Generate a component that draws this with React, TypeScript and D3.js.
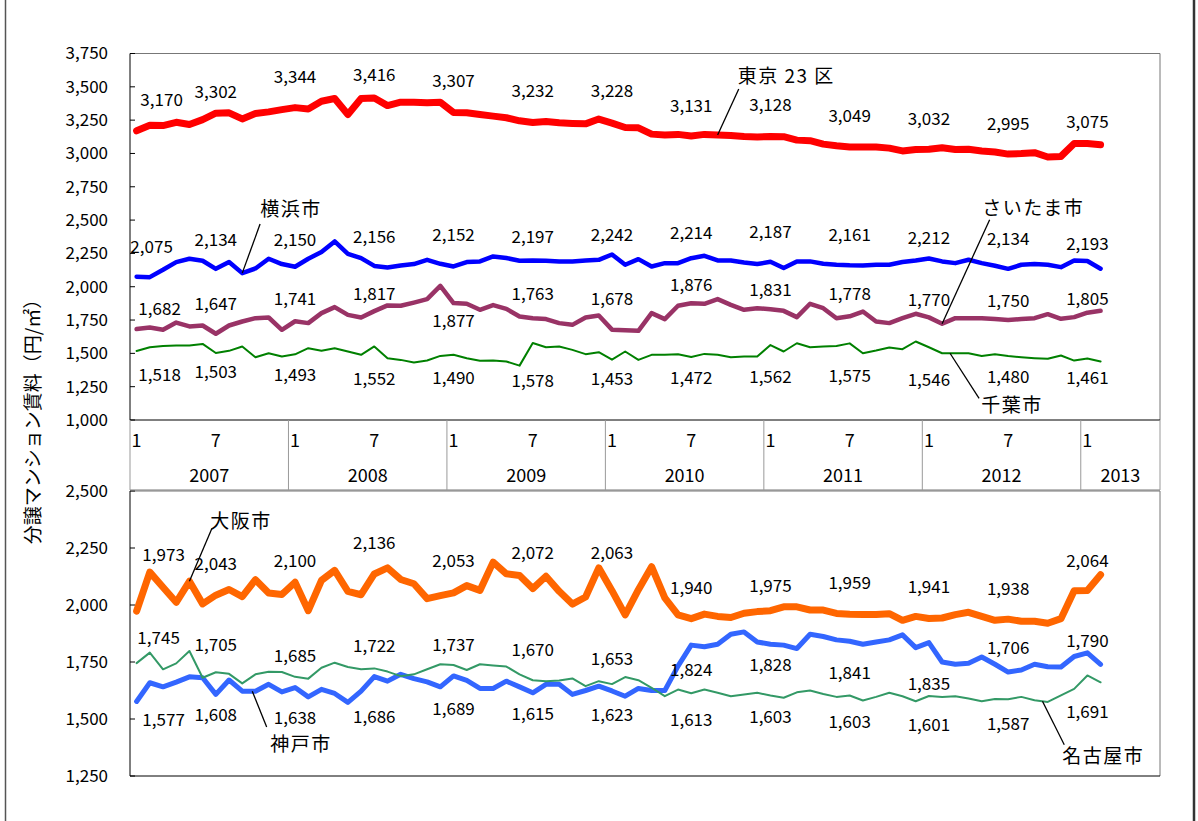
import React from 'react';
import * as d3 from 'd3';

// categories: monthly, Jan 2007 .. Jun 2013 (data runs to Feb 2013)
const years = ['2007', '2008', '2009', '2010', '2011', '2012', '2013'];
const monthTicks = ['1', '7'];
const categories = years.flatMap(y => d3.range(1, 13).map(m => `${y}/${m}`)).slice(0, 78);

// upper panel (円/㎡)
const tokyo = [3170, 3211, 3209, 3234, 3217, 3254, 3302, 3305, 3259, 3300, 3312, 3329, 3344, 3334, 3392, 3412, 3292, 3412, 3416, 3359,
  3385, 3385, 3380, 3385, 3307, 3305, 3292, 3280, 3268, 3245, 3232, 3240, 3230, 3225, 3222, 3258, 3228, 3195, 3192, 3145,
  3138, 3143, 3131, 3143, 3138, 3135, 3127, 3124, 3128, 3126, 3100, 3096, 3070, 3058, 3049, 3048, 3048, 3040, 3019, 3030,
  3032, 3043, 3029, 3031, 3019, 3011, 2995, 2999, 3006, 2973, 2978, 3074, 3075, 3066];
const yokohama = [2075, 2072, 2127, 2185, 2210, 2195, 2134, 2185, 2102, 2137, 2210, 2170, 2150, 2210, 2260, 2340, 2247, 2215, 2156, 2145,
  2160, 2170, 2202, 2172, 2152, 2185, 2190, 2227, 2215, 2195, 2197, 2195, 2190, 2190, 2197, 2202, 2242, 2165, 2207, 2152,
  2177, 2177, 2214, 2232, 2197, 2197, 2182, 2170, 2187, 2140, 2190, 2190, 2172, 2165, 2161, 2160, 2165, 2165, 2185, 2197,
  2212, 2190, 2177, 2202, 2177, 2157, 2134, 2165, 2170, 2165, 2147, 2197, 2193, 2135];
const saitama = [1682, 1694, 1677, 1731, 1702, 1709, 1647, 1709, 1739, 1764, 1769, 1677, 1741, 1727, 1802, 1847, 1789, 1769, 1817, 1860,
  1857, 1881, 1907, 2007, 1877, 1872, 1827, 1862, 1834, 1777, 1763, 1757, 1727, 1714, 1769, 1784, 1678, 1674, 1669, 1802,
  1757, 1857, 1876, 1872, 1907, 1864, 1827, 1839, 1831, 1819, 1772, 1872, 1839, 1764, 1778, 1814, 1739, 1727, 1764, 1797,
  1770, 1722, 1764, 1764, 1764, 1757, 1750, 1757, 1764, 1794, 1759, 1772, 1805, 1819];
const chiba = [1518, 1546, 1556, 1559, 1559, 1571, 1503, 1519, 1551, 1471, 1501, 1476, 1493, 1539, 1519, 1539, 1514, 1489, 1552, 1464,
  1451, 1431, 1446, 1481, 1490, 1464, 1444, 1446, 1439, 1408, 1578, 1546, 1551, 1526, 1494, 1509, 1453, 1514, 1451, 1489,
  1489, 1494, 1472, 1496, 1489, 1471, 1476, 1476, 1562, 1514, 1576, 1546, 1551, 1556, 1575, 1501, 1521, 1544, 1531, 1589,
  1546, 1501, 1501, 1501, 1481, 1494, 1480, 1471, 1464, 1459, 1484, 1446, 1461, 1439];

// lower panel
const osaka = [1973, 2144, 2078, 2012, 2104, 2005, 2043, 2068, 2037, 2111, 2053, 2046, 2100, 1975, 2108, 2152, 2060, 2045, 2136, 2163,
  2112, 2093, 2028, 2041, 2053, 2085, 2064, 2188, 2137, 2129, 2072, 2126, 2060, 2004, 2035, 2163, 2063, 1957, 2067, 2168,
  2031, 1957, 1940, 1960, 1950, 1945, 1964, 1971, 1975, 1992, 1992, 1978, 1978, 1963, 1959, 1958, 1958, 1962, 1933, 1950,
  1941, 1943, 1958, 1968, 1950, 1933, 1938, 1929, 1929, 1920, 1940, 2062, 2064, 2133];
const kobe = [1577, 1659, 1641, 1662, 1685, 1681, 1608, 1671, 1622, 1622, 1652, 1619, 1638, 1597, 1630, 1612, 1573, 1622, 1686, 1666,
  1696, 1677, 1663, 1641, 1689, 1669, 1634, 1634, 1666, 1641, 1615, 1652, 1652, 1608, 1625, 1644, 1623, 1600, 1634, 1625,
  1625, 1732, 1824, 1817, 1828, 1872, 1882, 1838, 1828, 1824, 1809, 1872, 1862, 1847, 1841, 1828, 1838, 1847, 1869, 1813,
  1835, 1750, 1740, 1744, 1772, 1740, 1706, 1715, 1740, 1729, 1728, 1774, 1790, 1740];
const nagoya = [1745, 1791, 1718, 1744, 1798, 1681, 1705, 1698, 1656, 1696, 1707, 1706, 1685, 1677, 1725, 1747, 1728, 1718, 1722, 1708,
  1688, 1696, 1718, 1740, 1737, 1715, 1740, 1735, 1730, 1696, 1670, 1666, 1669, 1678, 1644, 1666, 1653, 1684, 1670, 1637,
  1600, 1629, 1613, 1629, 1615, 1600, 1607, 1615, 1603, 1593, 1617, 1625, 1610, 1597, 1603, 1581, 1597, 1615, 1600, 1578,
  1601, 1597, 1600, 1590, 1578, 1588, 1587, 1597, 1582, 1575, 1604, 1632, 1691, 1661];

// every 6th month carries a value label
const labelIdx = d3.range(0, tokyo.length, 6);

const FONT = "'Noto Sans CJK JP', 'Noto Sans', sans-serif";
const NARROW = "'Liberation Sans Narrow', 'Noto Sans CJK JP', sans-serif";
const fmt = d3.format(',');

const x = d3.scaleLinear().domain([-0.5, categories.length - 0.5]).range([130, 1160]);
const yTop = d3.scaleLinear().domain([1000, 3750]).range([420, 53.5]);
const yBot = d3.scaleLinear().domain([1250, 2500]).range([776, 491]);

type Series = {
  values: number[]; color: string; width: number;
  labelDy: number[]; firstDx: number;
};

const topSeries: Series[] = [
  { values: chiba, color: '#008000', width: 2, firstDx: 23,
    labelDy: [24, 19, 21, 33, 23, 38, 19, 21, 32, 33, 33, 21, 19] },
  { values: saitama, color: '#993366', width: 4.5, firstDx: 23,
    labelDy: [-20, -30, -22, -17, 18, -24, -31, -18, -19, -22, -17, -19, -14] },
  { values: yokohama, color: '#0000ff', width: 4.5, firstDx: 15,
    labelDy: [-30, -29, -27, -29, -31, -23, -19, -25, -30, -30, -20, -30, -17] },
  { values: tokyo, color: '#ff0000', width: 7, firstDx: 25,
    labelDy: [-31, -21, -31, -23, -31, -31, -32, -30, -31, -31, -30, -30, -21] },
];

const botSeries: Series[] = [
  { values: osaka, color: '#ff6600', width: 7, firstDx: 27,
    labelDy: [-56, -31, -21, -31, -32, -36, -38, -31, -25, -31, -31, -30, -29] },
  { values: kobe, color: '#3366ff', width: 5, firstDx: 27,
    labelDy: [19, 21, 31, 40, 33, 21, 24, 25, 21, 32, 41, -24, -12] },
  { values: nagoya, color: '#339966', width: 2, firstDx: 22,
    labelDy: [-25, -27, -21, -22, -20, -30, -25, 27, 22, 27, 29, 25, 37] },
];

// series names with leader lines (text / leader start in index-value space, leader end on the line)
const notes = [
  { text: '東京 23 区', panel: 'top', values: tokyo, tx: 49.2, tv: 3581, sx: 45.6, sv: 3484, ex: 44 },
  { text: '横浜市', panel: 'top', values: yokohama, tx: 11.7, tv: 2578, sx: 9.35, sv: 2470, ex: 8 },
  { text: 'さいたま市', panel: 'top', values: saitama, tx: 67.9, tv: 2585, sx: 64.6, sv: 2503, ex: 61 },
  { text: '千葉市', panel: 'top', values: chiba, tx: 66.3, tv: 1113, sx: 63.8, sv: 1163, ex: 61.6 },
  { text: '大阪市', panel: 'bot', values: osaka, tx: 7.9, tv: 2366, sx: 5.7, sv: 2335, ex: 4 },
  { text: '神戸市', panel: 'bot', values: kobe, tx: 12.45, tv: 1387, sx: 9.85, sv: 1465, ex: 8.76 },
  { text: '名古屋市', panel: 'bot', values: nagoya, tx: 73.2, tv: 1335, sx: 70.25, sv: 1387, ex: 68.6 },
];

const interp = (vals: number[], t: number) => {
  const i0 = Math.floor(t);
  const f = t - i0;
  return i0 + 1 < vals.length ? vals[i0] * (1 - f) + vals[i0 + 1] * f : vals[i0];
};

const Panel = ({ y, series, ticks }: { y: d3.ScaleLinear<number, number>; series: Series[]; ticks: number[] }) => {
  const [y0, y1] = y.range();
  const line = d3.line<number>().x((_, i) => x(i)).y(d => y(d));
  return (
    <g>
      {/* frame */}
      <line x1={130} x2={1160} y1={y1} y2={y1} stroke="#777" />
      <line x1={1160} x2={1160} y1={y1} y2={y0} stroke="#777" />
      <line x1={130} x2={130} y1={y1} y2={y0} stroke="#000" />
      <line x1={130} x2={1160} y1={y0} y2={y0} stroke="#000" />
      {ticks.map(t => (
        <g key={t}>
          <line x1={130} x2={135} y1={y(t)} y2={y(t)} stroke="#000" />
          <text x={108} y={y(t)} dy="0.35em" textAnchor="end" fontSize={17}>{fmt(t)}</text>
        </g>
      ))}
      {series.map((s, k) => (
        <path key={k} d={line(s.values) || ''} fill="none" stroke={s.color} strokeWidth={s.width}
          strokeLinejoin="round" strokeLinecap="round" />
      ))}
      {series.map((s, k) => labelIdx.map((idx, j) => (
        <text key={`${k}-${j}`} x={x(idx) + (j === 0 ? s.firstDx : 0)} y={y(s.values[idx]) + s.labelDy[j]}
          dy="0.35em" textAnchor="middle" fontSize={17}>{fmt(s.values[idx])}</text>
      )))}
    </g>
  );
};

export default function App() {
  const yearStarts = years.map((_, k) => k * 12);
  return (
    <svg width={1198} height={821} style={{ position: 'absolute', left: 0, top: 0, background: '#fff' }}
      fontFamily={FONT}>
      <line x1={5.5} x2={5.5} y1={0} y2={821} stroke="#555" strokeWidth={1.5} />
      <line x1={1194} x2={1194} y1={0} y2={821} stroke="#333" strokeWidth={2.5} />

      <Panel y={yTop} series={topSeries} ticks={d3.range(1000, 3751, 250)} />
      <Panel y={yBot} series={botSeries} ticks={d3.range(1250, 2501, 250)} />

      {/* category axis between the panels */}
      <g fontFamily={NARROW} fontSize={18}>
        <line x1={130} x2={1160} y1={490} y2={490} stroke="#777" />
        {yearStarts.map(s => (
          <line key={s} x1={x(s - 0.5)} x2={x(s - 0.5)} y1={420} y2={490} stroke="#999" />
        ))}
        <line x1={1160} x2={1160} y1={420} y2={490} stroke="#999" />
        {yearStarts.map((s, k) => (
          <g key={k}>
            {monthTicks.map((m, j) => {
              const idx = s + j * 6;
              return idx < categories.length
                ? <text key={m} x={x(idx)} y={441} dy="0.35em" textAnchor="middle">{m}</text>
                : null;
            })}
            <text x={(x(s - 0.5) + x(Math.min(s + 11.5, categories.length - 0.5))) / 2} y={476} dy="0.35em"
              textAnchor="middle">{years[k]}</text>
          </g>
        ))}
      </g>

      {notes.map(n => {
        const y = n.panel === 'top' ? yTop : yBot;
        return (
          <g key={n.text}>
            <line x1={x(n.sx)} y1={y(n.sv)} x2={x(n.ex)} y2={y(interp(n.values, n.ex))} stroke="#000" strokeWidth={1.3} />
            <text x={x(n.tx)} y={y(n.tv)} dy="0.35em" textAnchor="middle" fontSize={19} letterSpacing={1.5}>{n.text}</text>
          </g>
        );
      })}

      <text transform="translate(33,417) rotate(-90)" dy="0.35em" textAnchor="middle" fontSize={19}>
        分譲マンション賃料（円/㎡）
      </text>
    </svg>
  );
}
